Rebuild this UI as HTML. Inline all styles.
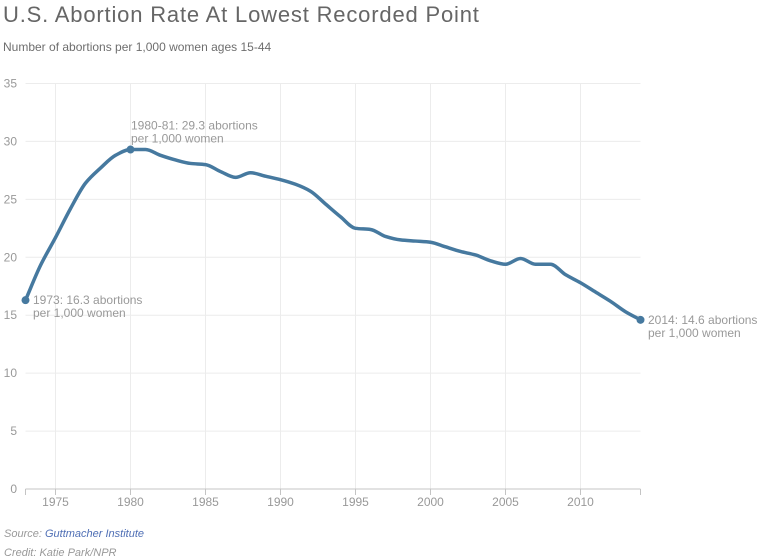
<!DOCTYPE html>
<html lang="en">
<head>
<meta charset="utf-8">
<title>U.S. Abortion Rate At Lowest Recorded Point</title>
<style>
html,body{margin:0;padding:0;background:#fff;}
body{width:762px;height:559px;overflow:hidden;position:relative;font-family:"Liberation Sans",Arial,sans-serif;}
#chart-title{position:absolute;left:3px;top:2px;font-size:22px;line-height:26px;color:#666;letter-spacing:0.82px;white-space:nowrap;}
#chart-subtitle{position:absolute;left:3px;top:40px;font-size:12px;line-height:14px;color:#6e6e6e;white-space:nowrap;}
#source{position:absolute;left:4px;top:527px;font-size:11px;line-height:14px;font-style:italic;color:#999;white-space:nowrap;}
#source a{color:#4f6fb5;text-decoration:none;}
#credit{position:absolute;left:4px;top:546px;font-size:11px;line-height:14px;font-style:italic;color:#999;white-space:nowrap;}
svg{position:absolute;left:0;top:0;}
svg text{font-family:"Liberation Sans",Arial,sans-serif;font-size:12px;fill:#999;}
</style>
</head>
<body>
<div id="chart-title">U.S. Abortion Rate At Lowest Recorded Point</div>
<div id="chart-subtitle">Number of abortions per 1,000 women ages 15-44</div>
<svg id="plot" width="762" height="559"></svg>
<div id="source">Source: <a href="#">Guttmacher Institute</a></div>
<div id="credit">Credit: Katie Park/NPR</div>
<script>
const years = [1973,1974,1975,1976,1977,1978,1979,1980,1981,1982,1983,1984,1985,1986,1987,1988,1989,1990,1991,1992,1993,1994,1995,1996,1997,1998,1999,2000,2001,2002,2003,2004,2005,2006,2007,2008,2009,2010,2011,2012,2013,2014];
const rates = [16.3,19.3,21.7,24.2,26.4,27.7,28.8,29.3,29.3,28.8,28.4,28.1,28.0,27.4,26.9,27.3,27.0,26.7,26.3,25.7,24.6,23.5,22.5,22.4,21.8,21.5,21.4,21.3,20.9,20.5,20.2,19.7,19.4,19.9,19.4,19.4,18.5,17.8,17.0,16.2,15.3,14.6];
const yTicks = [0,5,10,15,20,25,30,35];
const xTicks = [1975,1980,1985,1990,1995,2000,2005,2010];
const annotatedYears = [1973,1980,2014];
const annotationLines = [
  ["1973: 16.3 abortions","per 1,000 women"],
  ["1980-81: 29.3 abortions","per 1,000 women"],
  ["2014: 14.6 abortions","per 1,000 women"]
];

const svg = document.getElementById('plot');
const NS = 'http://www.w3.org/2000/svg';
const left = 25.5, right = 640.5, top_ = 83.5, bottom = 489;
const xMin = 1973, xMax = 2014, yMin = 0, yMax = 35;
function xScale(v){ return left + (v - xMin) / (xMax - xMin) * (right - left); }
function yScale(v){ return bottom - (v - yMin) / (yMax - yMin) * (bottom - top_); }
function make(tag, attrs){
  const el = document.createElementNS(NS, tag);
  for (const k in attrs) el.setAttribute(k, attrs[k]);
  return el;
}

yTicks.forEach(function(t){
  if (t !== 0) {
    const g = make('line', {x1:left, x2:right, y1:yScale(t), y2:yScale(t), stroke:'#ececec', 'stroke-width':1});
    
    
    svg.appendChild(g);
  }
  const l = make('text', {x:17, y:yScale(t)+4, 'text-anchor':'end'});
  l.textContent = t;
  
  
  svg.appendChild(l);
});

xTicks.forEach(function(t){
  const g = make('line', {x1:xScale(t), x2:xScale(t), y1:top_, y2:bottom, stroke:'#ececec', 'stroke-width':1});
  
  
  svg.appendChild(g);
});

const axis = make('line', {x1:left, x2:right, y1:bottom, y2:bottom, stroke:'#c4c4c4', 'stroke-width':1});


svg.appendChild(axis);

[xMin].concat(xTicks, [xMax]).forEach(function(t){
  const m = make('line', {x1:xScale(t), x2:xScale(t), y1:bottom, y2:bottom+6, stroke:'#c4c4c4', 'stroke-width':1});
  
  
  svg.appendChild(m);
});

xTicks.forEach(function(t){
  const l = make('text', {x:xScale(t), y:bottom+17, 'text-anchor':'middle'});
  l.textContent = t;
  
  
  svg.appendChild(l);
});

function monotonePath(px, py){
  const n = px.length, d = [], m = [];
  for (let i = 0; i < n-1; i++) d.push((py[i+1]-py[i])/(px[i+1]-px[i]));
  m.push(d[0]);
  for (let i = 1; i < n-1; i++) {
    m.push(d[i-1]*d[i] <= 0 ? 0 : 2*d[i-1]*d[i]/(d[i-1]+d[i]));
  }
  m.push(d[n-2]);
  let s = 'M' + px[0] + ',' + py[0];
  for (let i = 0; i < n-1; i++) {
    const h = (px[i+1]-px[i])/3;
    s += 'C' + (px[i]+h) + ',' + (py[i]+m[i]*h) + ' ' + (px[i+1]-h) + ',' + (py[i+1]-m[i+1]*h) + ' ' + px[i+1] + ',' + py[i+1];
  }
  return s;
}
const series = make('path', {d:monotonePath(years.map(xScale), rates.map(yScale)), fill:'none', stroke:'#46799f', 'stroke-width':3.5, 'stroke-linejoin':'round', 'stroke-linecap':'round'});


svg.appendChild(series);

annotatedYears.forEach(function(yr, i){
  const v = rates[years.indexOf(yr)];
  const cx = xScale(yr), cy = yScale(v);
  const c = make('circle', {cx:cx, cy:cy, r:4, fill:'#46799f'});
  
  
  svg.appendChild(c);
  const above = yr === 1980;
  const tx = above ? cx + 0.5 : cx + 7.5;
  const ty = above ? cy - 20 : cy + 4;
  annotationLines[i].forEach(function(line, j){
    const t = make('text', {x:tx, y:ty + j*13});
    t.textContent = line;
    
    
    svg.appendChild(t);
  });
});
</script>
</body>
</html>
